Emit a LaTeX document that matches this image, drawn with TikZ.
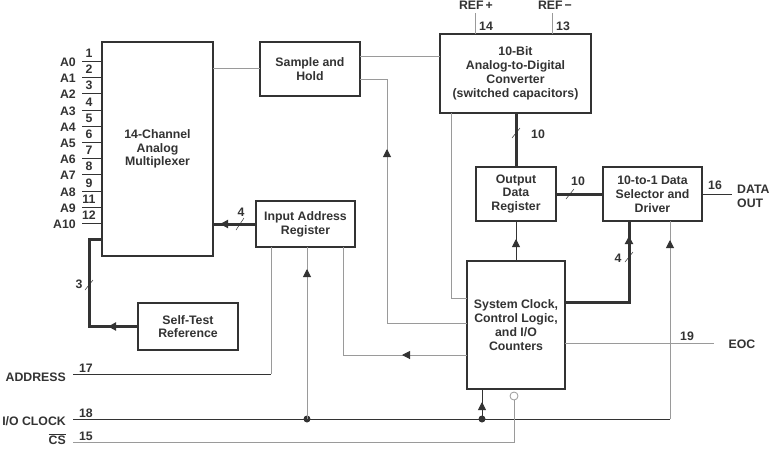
\documentclass[tikz,border=0pt]{standalone}
\usepackage{fontspec}
\setmainfont{Liberation Sans}
\usetikzlibrary{arrows.meta,decorations.markings,calc}
\definecolor{dk}{HTML}{333333}
\definecolor{gr}{HTML}{9A9A9A}
\begin{document}
\begin{tikzpicture}[x=1pt,y=-1pt,
 font=\fontsize{12.3}{13.8}\selectfont\bfseries,
 box/.style={draw=dk,line width=1.8pt,fill=white,align=center,inner sep=0pt,outer sep=0pt,text=dk},
 thinw/.style={draw=dk,line width=0.9pt},
 grw/.style={draw=gr,line width=1pt},
 bus/.style={draw=dk,line width=3pt},
 arrat/.style={decoration={markings,mark=at position #1 with {\arrow{Triangle[length=8pt,width=8pt,color=dk]}}},postaction={decorate}},
 lbl/.style={text=dk,inner sep=0pt},
 dotn/.style={circle,fill=dk,inner sep=0pt,minimum size=7pt},
 tickw/.style={draw=dk,line width=0.5pt},
]
\path[use as bounding box] (0,0) rectangle (772,448);

% boxes
\node[box,minimum width=111pt,minimum height=214pt] (mux) at (157.5,149) {14-Channel\\Analog\\Multiplexer};
\node[box,minimum width=100pt,minimum height=54pt] (SH) at (310,69) {Sample and\\Hold};
\node[box,minimum width=151pt,minimum height=79pt] (ADC) at (515.5,73.5) {10-Bit\\Analog-to-Digital\\Converter\\(switched capacitors)};
\node[box,minimum width=80pt,minimum height=54pt] (ODR) at (516,194) {Output\\Data\\Register};
\node[box,minimum width=99pt,minimum height=54pt] (DS) at (652.5,194) {10-to-1 Data\\Selector and\\Driver};
\node[box,minimum width=99pt,minimum height=46pt] (IAR) at (305.5,224) {Input Address\\Register};
\node[box,minimum width=100pt,minimum height=47pt] (ST) at (188,326.5) {Self-Test\\Reference};
\node[box,minimum width=98pt,minimum height=128pt] (SYS) at (516,325) {System Clock,\\Control Logic,\\and I/O\\Counters};

% analog inputs
\foreach \lab/\num/\yy in {A0/1/61,A1/2/77,A2/3/93,A3/4/110,A4/5/126,A5/6/142,A6/7/158,A7/8/174,A8/9/191,A9/11/207,A10/12/223}{
  \draw[thinw] (mux.west |- 0,\yy) -- (82,\yy) coordinate (p\num);
  \node[lbl,anchor=east] (l\num) at (76,\yy+1) {\lab};
  \node[lbl] (n\num) at (89,\yy-7.5) {\num};
}

% REF pins
\coordinate (refp) at (475,13);
\coordinate (refm) at (552,13);
\draw[grw] (refp) -- (refp |- ADC.north);
\draw[grw] (refm) -- (refm |- ADC.north);
\node[lbl] (refpl) at (476,5) {REF\,+};
\node[lbl] (refml) at (555,5) {REF\,−};
\node[lbl] (n14) at (486,26) {14};
\node[lbl] (n13) at (563,26) {13};

% mux -> S&H -> ADC
\draw[grw] (SH.west |- 0,68) -- (mux.east |- 0,68);
\draw[grw] (SH.east |- 0,56) -- (ADC.west |- 0,56);

% SYS -> S&H control
\draw[grw,arrat=254pt] (SYS.west |- 0,323) -| (387,79) -- (SH.east |- 0,79);
% ADC -> SYS
\draw[grw] (451,0 |- ADC.south) |- (SYS.west |- 0,298);

% ADC -> ODR bus
\draw[bus] (ADC.south -| ODR.north) -- (ODR.north);
\draw[tickw] (512,138) -- (520,128);
\node[lbl] (b10a) at (538,134) {10};
% ODR -> DS bus
\draw[bus] (ODR.east) -- (DS.west);
\draw[tickw] (566,199) -- (574,189);
\node[lbl] (b10b) at (578,181) {10};
% SYS -> ODR
\draw[thinw,arrat=22pt] (SYS.north -| ODR.south) -- (ODR.south);
% SYS -> DS bus
\draw[bus,arrat=130pt] (SYS.east |- 0,302) -| (629,0 |- DS.south);
\draw[tickw] (625,262) -- (633,252);
\node[lbl] (b4b) at (618,258) {4};

% DATA OUT
\coordinate (dout) at (732,194);
\draw[thinw] (DS.east) -- (dout);
\node[lbl] (n16) at (715,185) {16};
\node[lbl,anchor=west,align=left] (doutl) at (737,196) {DATA\\OUT};

% EOC
\coordinate (eoc) at (714,343);
\draw[grw] (SYS.east |- 0,343) -- (eoc);
\node[lbl] (n19) at (687,336) {19};
\node[lbl] (eocl) at (742,344) {EOC};

% IAR -> mux bus
\draw[bus,arrat=36pt] (IAR.west) -- (mux.east |- IAR.west);
\draw[tickw] (236,230) -- (244,218);
\node[lbl] (b4a) at (241,212) {4};

% Self test -> mux bus
\draw[bus,arrat=30pt] (ST.west) -- (89,0 |- ST.west) -- (89,239) -- (mux.west |- 0,239);
\draw[tickw] (85,290) -- (93,280);
\node[lbl] (b3) at (79,284) {3};

% ADDRESS
\coordinate (addr) at (73,374);
\coordinate (addrc) at (271,374);
\draw[thinw] (addr) -- (addrc);
\draw[grw] (addrc) -- (addrc |- IAR.south);
\node[lbl,anchor=east] (addrl) at (66,377) {ADDRESS};
\node[lbl] (n17) at (86,368) {17};

% SYS -> IAR
\draw[grw,arrat=65pt] (SYS.west |- 0,355) -| (343,0 |- IAR.south);

% I/O CLOCK
\coordinate (clk) at (73,419);
\coordinate (clkr) at (670,419);
\draw[thinw] (clk) -- (clkr);
\draw[grw,arrat=179pt] (clkr) -- (clkr |- DS.south);
\node[dotn] (d1) at (307,419) {};
\node[dotn] (d2) at (482,419) {};
\draw[grw,arrat=150pt] (d1.center) -- (d1 |- IAR.south);
\draw[thinw,arrat=17pt] (d2.center) -- (d2 |- SYS.south);
\node[lbl,anchor=east] (clkl) at (66,421) {I/O CLOCK};
\node[lbl] (n18) at (86,413) {18};

% CS
\node[circle,draw=gr,line width=0.8pt,fill=white,minimum size=8pt,inner sep=0pt] (csn) at (514,396) {};
\coordinate (cs) at (73,442);
\draw[grw] (csn.south) |- (cs);
\node[lbl,anchor=east] (csl) at (66,439) {$\overline{\hbox{CS}}$};
\node[lbl] (n15) at (86,436) {15};
\end{tikzpicture}
\end{document}
